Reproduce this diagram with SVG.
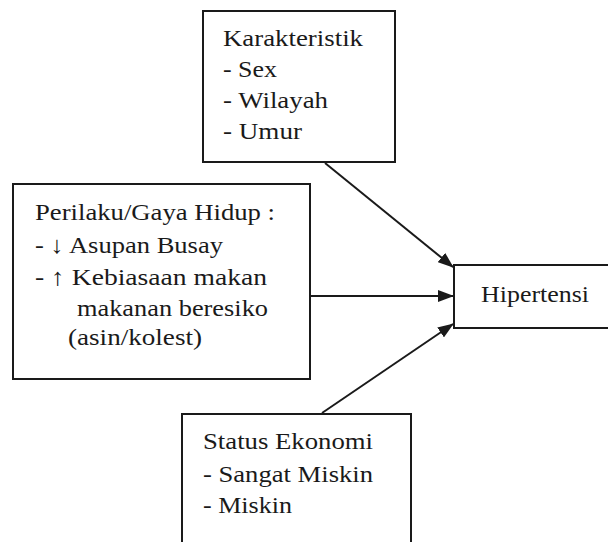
<svg xmlns="http://www.w3.org/2000/svg" width="608" height="542" viewBox="0 0 608 542">
<style>
.box{fill:#fff;stroke:#1a1a1a;stroke-width:2}
text{font-size:24px;fill:#1a1a1a}
.c{stroke:#1a1a1a;stroke-width:2;fill:none}
</style>
<defs>
<marker id="ah" markerWidth="16" markerHeight="12" refX="15" refY="6" orient="auto" markerUnits="userSpaceOnUse">
<path d="M0,0 L16,6 L0,12 Z" fill="#1a1a1a"/>
</marker>
</defs>
<rect width="608" height="542" fill="#fff"/>
<g id="connectors">
<line class="c" x1="325" y1="163" x2="453" y2="267" marker-end="url(#ah)"/>
<line class="c" x1="310" y1="296" x2="453" y2="296" marker-end="url(#ah)"/>
<line class="c" x1="322" y1="413" x2="453" y2="324" marker-end="url(#ah)"/>
</g>
<g font-family="Liberation Serif, Times New Roman, serif">
<g id="karakteristik">
<rect class="box" x="203" y="11" width="192" height="151"/>
<text x="223" y="46" textLength="140" lengthAdjust="spacingAndGlyphs">Karakteristik</text>
<text x="223" y="77" textLength="54" lengthAdjust="spacingAndGlyphs">- Sex</text>
<text x="223" y="108" textLength="105" lengthAdjust="spacingAndGlyphs">- Wilayah</text>
<text x="223" y="139" textLength="79" lengthAdjust="spacingAndGlyphs">- Umur</text>
</g>
<g id="perilaku">
<rect class="box" x="13" y="184" width="297" height="195"/>
<text x="35" y="220" textLength="240" lengthAdjust="spacingAndGlyphs">Perilaku/Gaya Hidup :</text>
<text x="35" y="253" textLength="188" lengthAdjust="spacingAndGlyphs">- ↓ Asupan Busay</text>
<text x="35" y="285" textLength="232" lengthAdjust="spacingAndGlyphs">- ↑ Kebiasaan makan</text>
<text x="77" y="316" textLength="191" lengthAdjust="spacingAndGlyphs">makanan beresiko</text>
<text x="68" y="345" textLength="134" lengthAdjust="spacingAndGlyphs">(asin/kolest)</text>
</g>
<g id="hipertensi">
<rect class="box" x="454" y="265" width="170" height="63"/>
<text x="481" y="302" textLength="108" lengthAdjust="spacingAndGlyphs">Hipertensi</text>
</g>
<g id="status">
<rect class="box" x="182" y="414" width="229" height="140"/>
<text x="203" y="449" textLength="170" lengthAdjust="spacingAndGlyphs">Status Ekonomi</text>
<text x="203" y="482" textLength="170" lengthAdjust="spacingAndGlyphs">- Sangat Miskin</text>
<text x="203" y="513" textLength="89" lengthAdjust="spacingAndGlyphs">- Miskin</text>
</g>
</g>
</svg>
